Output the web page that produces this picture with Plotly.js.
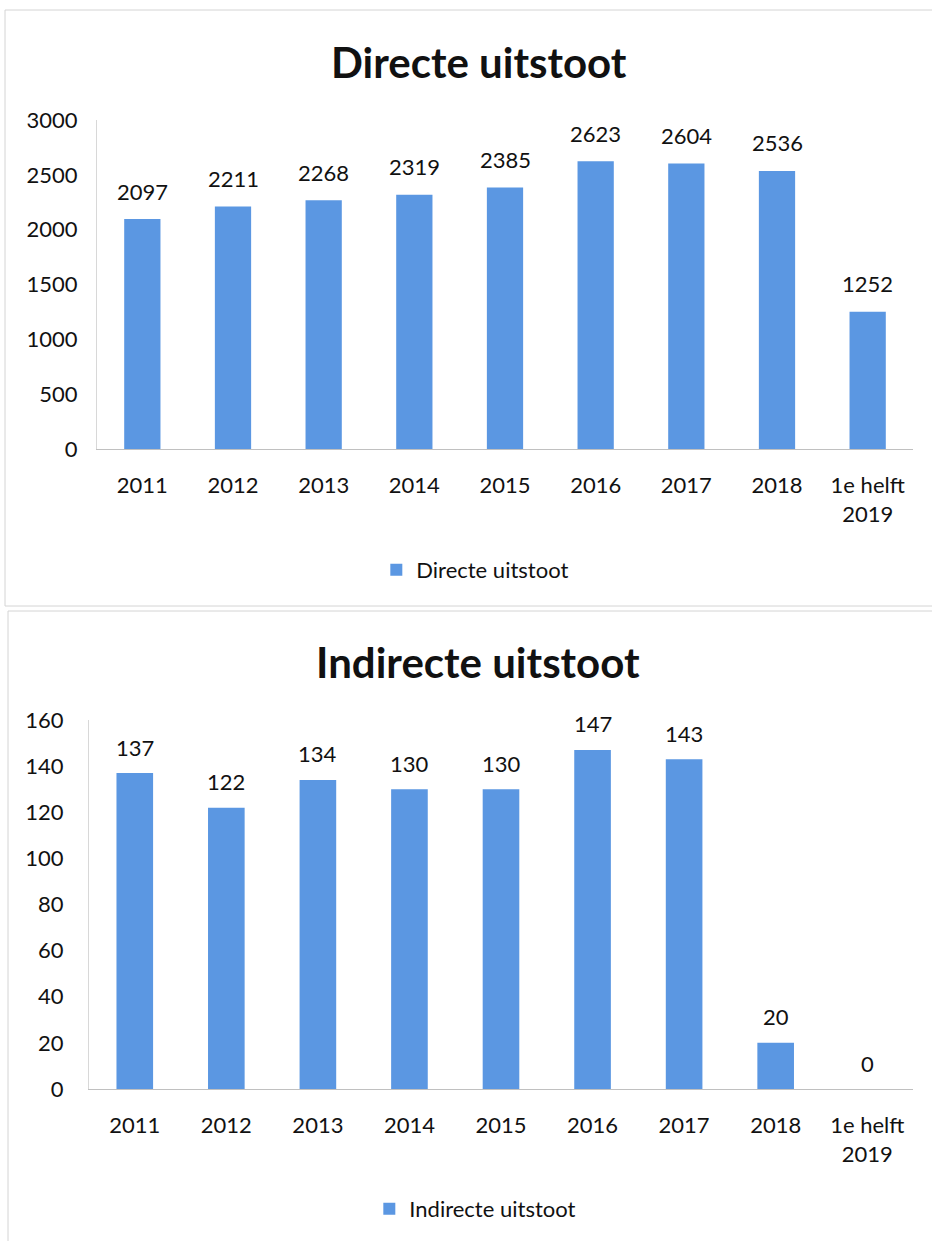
<!DOCTYPE html>
<html>
<head>
<meta charset="utf-8">
<script src="https://cdn.plot.ly/plotly-3.0.1.min.js"></script>
<style>html,body{margin:0;padding:0;background:#fff}#chart{width:932px;height:1241px}</style>
</head>
<body>
<div id="chart"></div>
<script>
const categories = ["2011","2012","2013","2014","2015","2016","2017","2018","1e helft<br>2019"];
const directValues = [2097, 2211, 2268, 2319, 2385, 2623, 2604, 2536, 1252];
const indirectValues = [137, 122, 134, 130, 130, 147, 143, 20, 0];
const directTicks = [0, 500, 1000, 1500, 2000, 2500, 3000];
const indirectTicks = [0, 20, 40, 60, 80, 100, 120, 140, 160];
const directName = "Directe uitstoot";
const indirectName = "Indirecte uitstoot";

const W = 932, H = 1241;
const px = v => v / W;
const py = v => 1 - v / H;
const FONT = "Lato, 'Open Sans', sans-serif";
const barColor = "#5b97e2";

const traces = [
  {type: "bar", x: categories, y: directValues, name: directName, xaxis: "x", yaxis: "y",
   marker: {color: barColor}, width: 0.4, legend: "legend", hoverinfo: "x+y"},
  {type: "bar", x: categories, y: indirectValues, name: indirectName, xaxis: "x2", yaxis: "y2",
   marker: {color: barColor}, width: 0.4, legend: "legend2", hoverinfo: "x+y"}
];

const annotations = [];
directValues.forEach((v, i) => annotations.push({x: i, y: v, xref: "x", yref: "y",
  text: String(v), showarrow: false, yshift: 28, font: {family: FONT, size: 22, color: "#111"}}));
indirectValues.forEach((v, i) => annotations.push({x: i, y: v, xref: "x2", yref: "y2",
  text: String(v), showarrow: false, yshift: 26, font: {family: FONT, size: 22, color: "#111"}}));
annotations.push({text: "<b>" + directName + "</b>", xref: "paper", yref: "paper", x: px(479), y: py(62),
  xanchor: "center", yanchor: "middle",
  showarrow: false, font: {family: FONT, size: 42, color: "#111"}});
annotations.push({text: "<b>" + indirectName + "</b>", xref: "paper", yref: "paper", x: px(478), y: py(662),
  xanchor: "center", yanchor: "middle",
  showarrow: false, font: {family: FONT, size: 42, color: "#111"}});

const axisX = {type: "category", range: [-0.5, 8.5], showgrid: false, showline: true, linecolor: "#c0c0c0", linewidth: 1,
  ticks: "", ticklabelstandoff: 17, tickfont: {family: FONT, size: 22, color: "#111"}, fixedrange: true};
const axisY = {showgrid: false, showline: true, linecolor: "#d8d8d8", linewidth: 1, ticks: "",
  tickfont: {family: FONT, size: 22, color: "#111"}, zeroline: false, fixedrange: true};

const layout = {
  width: W, height: H,
  margin: {l: 0, r: 0, t: 0, b: 0},
  paper_bgcolor: "#fff", plot_bgcolor: "#fff",
  font: {family: FONT, color: "#111"},
  xaxis: Object.assign({}, axisX, {domain: [px(97), px(913)], anchor: "y"}),
  yaxis: Object.assign({}, axisY, {domain: [py(449), py(120)], range: [0, 3000], tickvals: directTicks,
    ticklabelstandoff: 14, anchor: "x"}),
  xaxis2: Object.assign({}, axisX, {domain: [px(89), px(913)], anchor: "y2"}),
  yaxis2: Object.assign({}, axisY, {domain: [py(1089), py(720)], range: [0, 160], tickvals: indirectTicks,
    ticklabelstandoff: 20, anchor: "x2"}),
  legend: {x: 0.51, xanchor: "center", y: py(570), yanchor: "middle", orientation: "h",
    font: {family: FONT, size: 22, color: "#111"}, bgcolor: "rgba(0,0,0,0)"},
  legend2: {x: 0.51, xanchor: "center", y: py(1209), yanchor: "middle", orientation: "h",
    font: {family: FONT, size: 22, color: "#111"}, bgcolor: "rgba(0,0,0,0)"},
  annotations: annotations,
  shapes: [
    {type: "rect", xref: "paper", yref: "paper", x0: px(5), x1: px(940), y0: py(606), y1: py(10),
     line: {color: "#d4d4d4", width: 1}},
    {type: "rect", xref: "paper", yref: "paper", x0: px(8), x1: px(940), y0: py(1250), y1: py(611),
     line: {color: "#d4d4d4", width: 1}}
  ],
  showlegend: true
};

Plotly.newPlot("chart", traces, layout, {displayModeBar: false, staticPlot: true});
</script>
</body>
</html>
